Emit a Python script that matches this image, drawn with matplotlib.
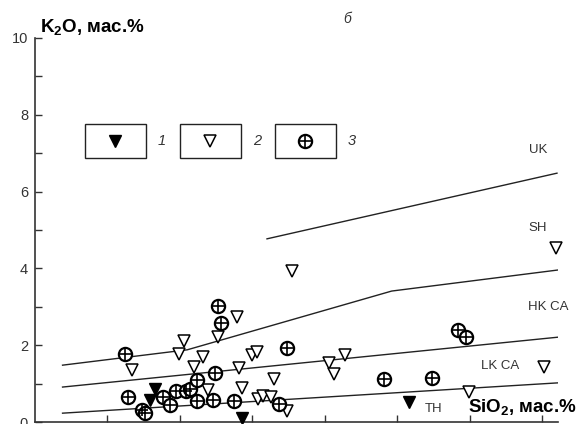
import numpy as np
import matplotlib
matplotlib.use("Agg")
import matplotlib.pyplot as plt
from matplotlib.patches import Rectangle

plt.rcParams['font.family'] = ['Liberation Sans', 'DejaVu Sans']
plt.rcParams['mathtext.fontset'] = 'custom'
plt.rcParams['mathtext.rm'] = 'Liberation Sans'
plt.rcParams['mathtext.bf'] = 'Liberation Sans:bold'
plt.rcParams['mathtext.it'] = 'Liberation Sans:italic'

# group 1 (filled triangles)
sio2_1 = [53.3, 52.9, 59.3, 70.8]
k2o_1 = [0.86, 0.57, 0.10, 0.52]

# group 2 (open triangles)
sio2_2 = [51.7, 54.9, 55.3, 56.0, 56.6, 56.9, 57.6, 58.9, 59.1, 59.3, 60.0, 60.3,
          60.4, 60.7, 61.3, 61.5, 62.4, 62.7, 65.3, 65.6, 66.4, 74.9, 80.1, 80.9]
k2o_2 = [1.35, 1.77, 2.11, 1.43, 1.69, 0.83, 2.21, 2.73, 1.41, 0.89, 1.74, 1.82,
         0.60, 0.68, 0.65, 1.12, 0.29, 3.93, 1.54, 1.25, 1.74, 0.78, 1.43, 4.53]

# group 3 (crossed circles)
sio2_3 = [51.2, 51.4, 52.4, 52.6, 53.8, 54.3, 54.7, 55.4, 55.7, 56.2, 56.2, 57.4,
          57.3, 58.7, 57.6, 57.8, 62.4, 61.8, 69.1, 72.4, 74.2, 74.7]
k2o_3 = [1.77, 0.65, 0.31, 0.23, 0.65, 0.44, 0.81, 0.81, 0.86, 1.09, 0.55, 1.28,
         0.57, 0.55, 3.02, 2.58, 1.93, 0.47, 1.12, 1.15, 2.40, 2.21]

# series boundaries
th_x, th_y = [46.9, 81.1], [0.23, 1.02]
lk_x, lk_y = [46.9, 81.1], [0.91, 2.21]
hk_x, hk_y = [46.9, 55.5, 69.6, 81.1], [1.48, 1.88, 3.41, 3.96]
uk_x, uk_y = [61.0, 81.0], [4.77, 6.48]

series_names = ['UK', 'SH', 'HK CA', 'LK CA', 'TH']
legend_labels = ['1', '2', '3']

fig = plt.figure(figsize=(5.85, 4.24), dpi=100)
ax = fig.add_axes([35/585, 2/424, 523/585, 384/424])

lc = '#222222'
for xs, ys in [(th_x, th_y), (lk_x, lk_y), (hk_x, hk_y), (uk_x, uk_y)]:
    ax.plot(xs, ys, color=lc, lw=1.0, zorder=2)

ax.plot(sio2_2, k2o_2, linestyle='none', marker='v', ms=9, mfc='white',
        mec='black', mew=1.1, zorder=3, clip_on=False)
ax.plot(sio2_3, k2o_3, linestyle='none', marker='o', ms=9.5, mfc='white',
        mec='black', mew=1.6, zorder=4, clip_on=False)
ax.plot(sio2_3, k2o_3, linestyle='none', marker='+', ms=8, mec='black',
        mew=1.2, zorder=5, clip_on=False)
ax.plot(sio2_1, k2o_1, linestyle='none', marker='v', ms=9, mfc='black',
        mec='black', zorder=6, clip_on=False)

# series labels
lab_pos = [(79.7, 7.08), (79.7, 5.05), (80.4, 2.99), (77.1, 1.46), (72.5, 0.34)]
for name, (x, y) in zip(series_names, lab_pos):
    ax.text(x, y, name, fontsize=9.5, color='#333333', ha='center', va='center')

# legend boxes
styles = [dict(marker='v', ms=9, mfc='black', mec='black'),
          dict(marker='v', ms=9, mfc='white', mec='black', mew=1.1),
          dict(marker='o', ms=9.5, mfc='white', mec='black', mew=1.6)]
bw, bh = 0.1166, 0.0885
for i, (lab, st) in enumerate(zip(legend_labels, styles)):
    x0 = 0.0956 + i * 0.1816
    ax.add_patch(Rectangle((x0, 0.6875), bw, bh, transform=ax.transAxes,
                           fill=False, ec='#222222', lw=1.0, clip_on=False))
    ax.plot([x0 + bw/2], [0.6875 + bh/2], transform=ax.transAxes, clip_on=False,
            linestyle='none', **st)
    if i == 2:
        ax.plot([x0 + bw/2], [0.6875 + bh/2], transform=ax.transAxes,
                clip_on=False, linestyle='none', marker='+', ms=8, mec='black', mew=1.2)
    ax.text(x0 + 0.147, 0.6875 + bh/2, lab, transform=ax.transAxes,
            fontsize=10.5, style='italic', color='#333333', ha='center', va='center')

ax.set_xlim(45, 81.07)
ax.set_ylim(0, 10)
ax.set_xticks(np.arange(50, 81, 5))
ax.set_xticklabels([])
ax.set_yticks(np.arange(0, 11, 2))
ax.set_yticks(np.arange(1, 10, 2), minor=True)
ax.tick_params(axis='both', which='both', direction='in', length=5, width=1.0,
               color='#333333', labelsize=10.5, labelcolor='#333333', pad=5)
for s in ['top', 'right']:
    ax.spines[s].set_visible(False)
for s in ['left', 'bottom']:
    ax.spines[s].set_color('#333333')
    ax.spines[s].set_linewidth(1.2)

fig.text(40/585, 1 - 32/424, r'K$_\mathbf{2}$O, мас.%', fontsize=13.5,
         fontweight='bold', va='baseline', ha='left')
fig.text(468/585, 1 - 412/424, r'SiO$_\mathbf{2}$, мас.%', fontsize=13.5,
         fontweight='bold', va='baseline', ha='left')
fig.text(347/585, 1 - 19/424, 'б', fontsize=10, style='italic',
         color='#333333', ha='center', va='center')

fig.savefig('out.png', dpi=100)
